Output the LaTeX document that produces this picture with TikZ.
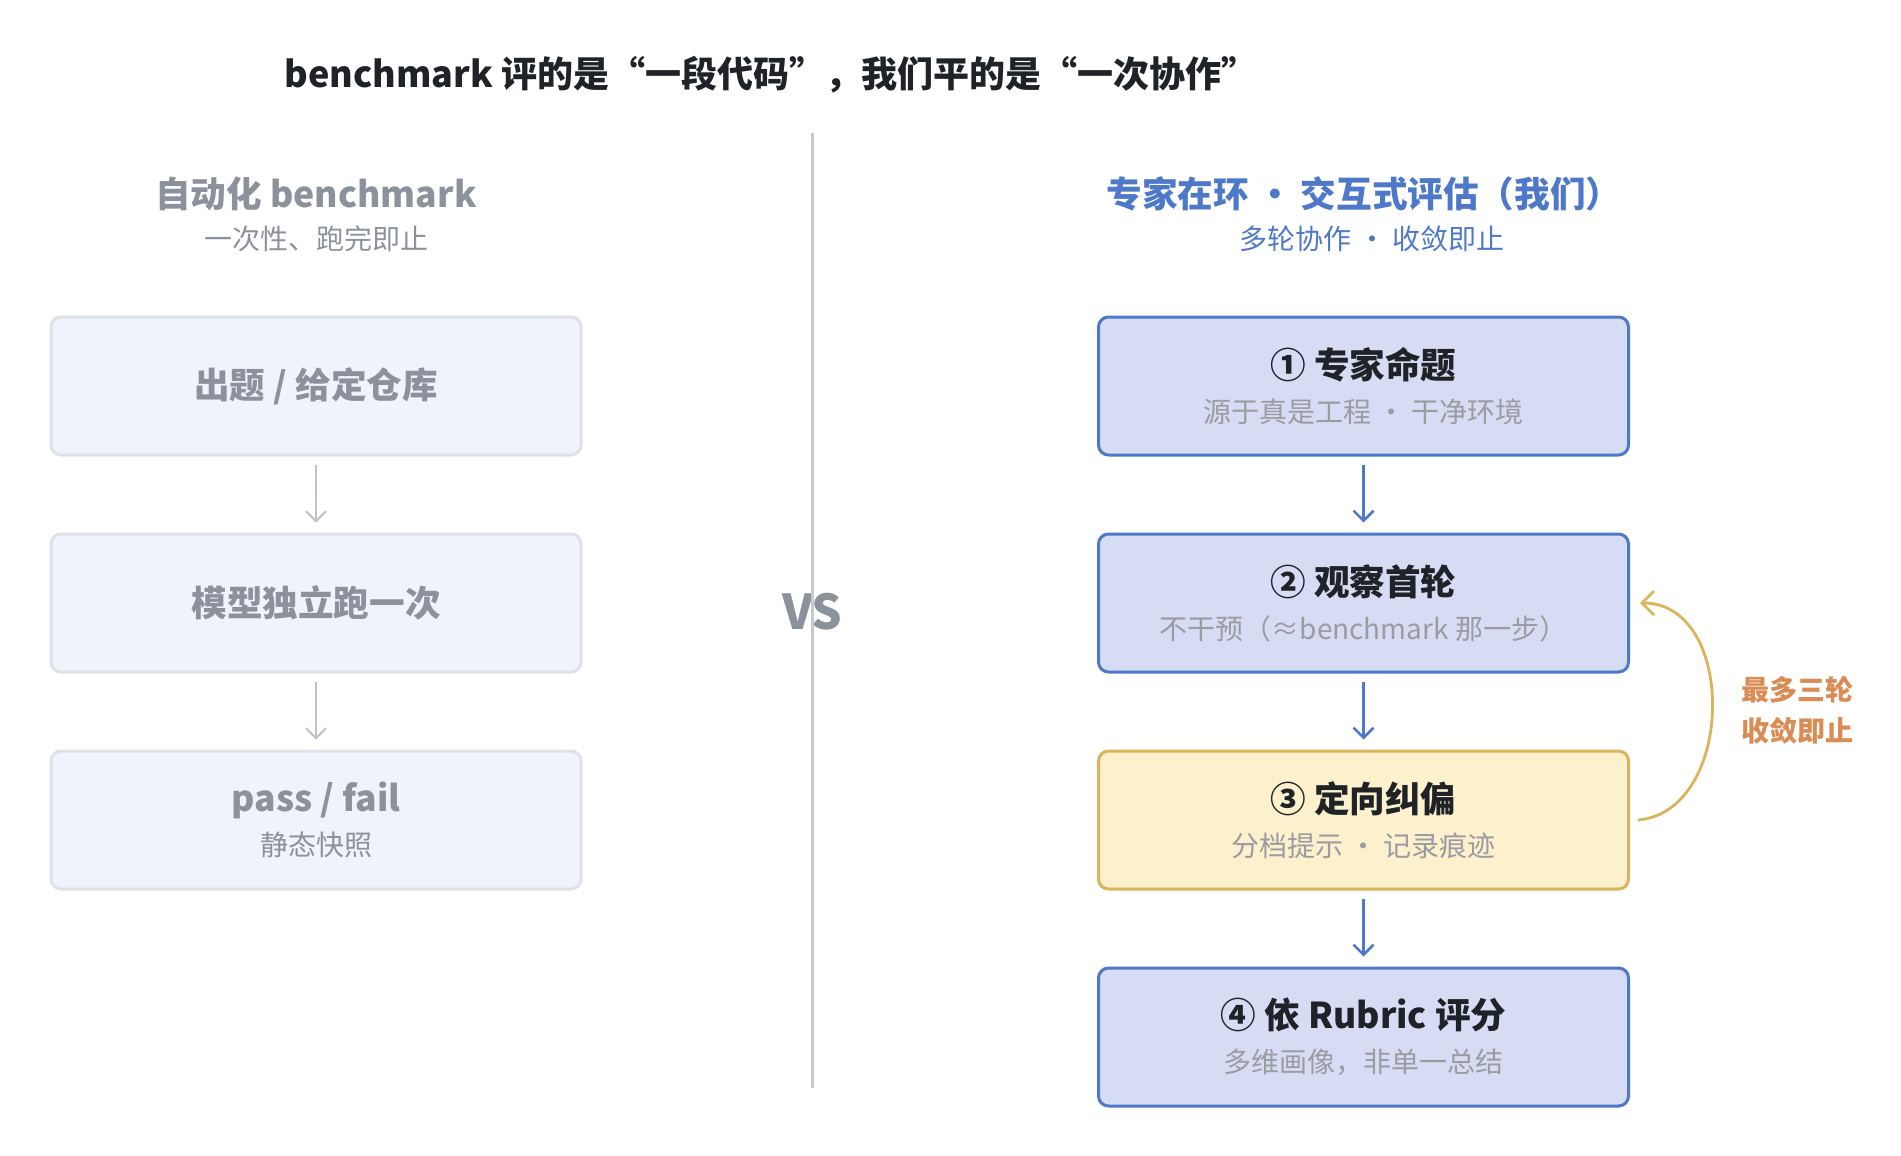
\documentclass[tikz,border=0pt]{standalone}
\usepackage{fontspec}
\setmainfont{Noto Sans CJK SC}
\usetikzlibrary{arrows.meta,positioning}
\definecolor{TitleInk}{HTML}{1F2328}
\definecolor{MutedGray}{HTML}{8C929C}
\definecolor{MutedLine}{HTML}{DFE1E6}
\definecolor{MutedFill}{HTML}{EEF3FC}
\definecolor{MutedArrow}{HTML}{BFC3C9}
\definecolor{SubGray}{HTML}{9A9CA2}
\definecolor{ExpertBlue}{HTML}{4E78C8}
\definecolor{ExpertFill}{HTML}{D6DCF4}
\definecolor{NudgeFill}{HTML}{FDF0CC}
\definecolor{NudgeGold}{HTML}{D9B45A}
\definecolor{LoopOrange}{HTML}{D98C54}
\definecolor{DividerGray}{HTML}{C6C9CE}

\newcommand{\stagetext}[2]{{\fontsize{17.8}{22}\selectfont\bfseries #1}\\{\color{SubGray}#2}}

\tikzset{
    % Rounded boxes
    stage/.style={
        rectangle,
        rounded corners=5pt,
        line width=1.5pt,
        minimum width=265pt,
        minimum height=69pt,
        inner sep=0pt,
        align=center,
        font=\fontsize{14}{22}\selectfont
    },
    stage muted/.style={
        stage,
        draw=MutedLine,
        fill=MutedFill,
        text=MutedGray
    },
    stage expert/.style={
        stage,
        draw=ExpertBlue,
        fill=ExpertFill,
        text=TitleInk
    },
    stage nudge/.style={
        stage,
        draw=NudgeGold,
        fill=NudgeFill,
        text=TitleInk
    },
    flow/.style={
        -{Straight Barb[length=5pt,width=10pt]},
        shorten <=4.25pt,
        shorten >=5pt
    },
    flow muted/.style={
        flow,
        line width=1pt,
        color=MutedArrow
    },
    flow expert/.style={
        flow,
        line width=1.3pt,
        color=ExpertBlue
    },
    loop back/.style={
        -{Straight Barb[length=6pt,width=12pt]},
        line width=1.4pt,
        color=NudgeGold
    },
    head/.style={
        font=\fontsize{17.8}{21}\selectfont\bfseries
    },
    subhead/.style={
        font=\fontsize{14}{17}\selectfont
    }
}

\begin{document}
\begin{tikzpicture}[x=0.5pt, y=-0.5pt, node distance=38pt]
        \useasboundingbox (0,0) rectangle (1901,1156);

        % Title
        \node[font=\fontsize{18}{22}\selectfont\bfseries, text=TitleInk] (title) at (771,75)
              {benchmark 评的是“一段代码”，我们平的是“一次协作”};

        % VS and divider
        \node[inner sep=0pt, text=MutedGray, font=\fontsize{24}{28}\selectfont\bfseries] (vs) at (812,612) {V\kern-1ptS};
        \coordinate (divtop) at (812,133);
        \coordinate (divbot) at (812,1088);
        \draw[DividerGray, line width=1.5pt] (divtop) -- (divbot);

        % Left column: automated benchmark
        \node[head, text=MutedGray] (autohead) at (316,194) {自动化 benchmark};
        \node[subhead, text=MutedGray] (autosub) at (316,239) {一次性、跑完即止};

        \node[stage muted] (task) at (316,386) {\fontsize{17.8}{21}\selectfont\bfseries 出题 / 给定仓库};
        \node[stage muted, below=of task] (solo) {\fontsize{17.8}{21}\selectfont\bfseries 模型独立跑一次};
        \node[stage muted, below=of solo] (verdict) {{\fontsize{17.8}{22}\selectfont\bfseries pass / fail}\\静态快照};

        \draw[flow muted] (task) -- (solo);
        \draw[flow muted] (solo) -- (verdict);

        % Right column: expert in the loop
        \node[head, text=ExpertBlue] (exphead) at (1364,194) {专家在环 · 交互式评估（我们）};
        \node[subhead, text=ExpertBlue] (expsub) at (1372,239) {多轮协作 · 收敛即止};

        \node[stage expert] (pose) at (1363.5,386) {\stagetext{① 专家命题}{源于真是工程 · 干净环境}};
        \node[stage expert, below=of pose] (observe) {\stagetext{② 观察首轮}{不干预（≈benchmark 那一步）}};
        \node[stage nudge, below=of observe] (correct) {\stagetext{③ 定向纠偏}{分档提示 · 记录痕迹}};
        \node[stage expert, below=of correct] (grade) {\stagetext{④ 依 Rubric 评分}{多维画像，非单一总结}};

        \draw[flow expert] (pose) -- (observe);
        \draw[flow expert] (observe) -- (correct);
        \draw[flow expert] (correct) -- (grade);

        % Feedback loop
        \draw[loop back] ([xshift=4pt]correct.east) to[out=5, in=0, looseness=1.15] ([xshift=5pt]observe.east);
        \node[font=\fontsize{14}{20.5}\selectfont\bfseries, text=LoopOrange, align=center] (rounds) at (1797,710)
              {最多三轮\\收敛即止};
    \end{tikzpicture}
\end{document}
